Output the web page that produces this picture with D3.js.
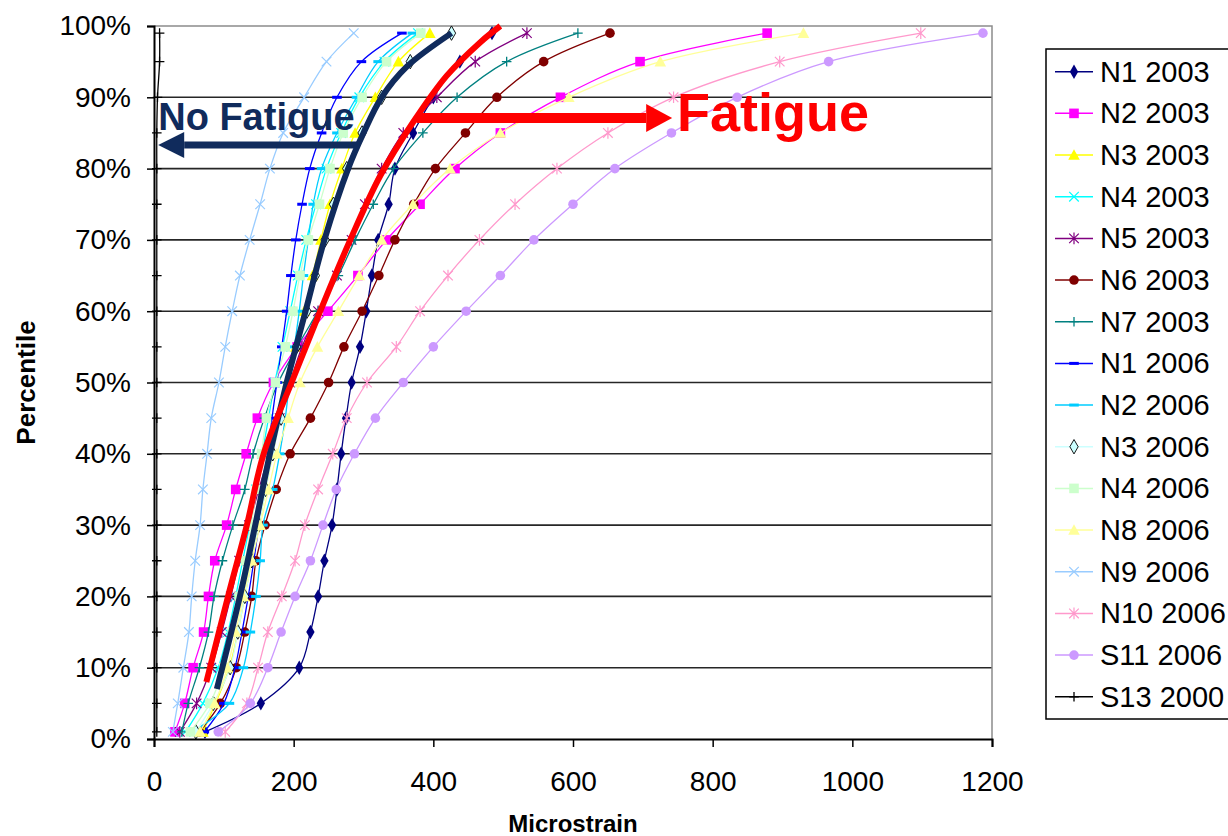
<!DOCTYPE html>
<html>
<head>
<meta charset="utf-8">
<script src="https://cdn.jsdelivr.net/npm/d3@7"></script>
<style>
  html, body { margin: 0; padding: 0; background: #fff; }
  svg { display: block; font-family: "Liberation Sans", Arial, sans-serif; }
</style>
</head>
<body>
<svg id="chart" width="1228" height="836"></svg>
<script>
// percentiles sampled for every series (%)
const percentiles = [1, 5, 10, 15, 20, 25, 30, 35, 40, 45, 50, 55, 60, 65, 70, 75, 80, 85, 90, 95, 99];

// microstrain at each percentile
const n1_2003  = [73, 153, 208, 224, 235, 244, 255, 262, 268, 275, 283, 295, 304, 312, 321, 336, 345, 371, 400, 438, 484];
const n2_2003  = [30, 44, 56, 71, 78, 87, 104, 117, 132, 148, 171, 205, 249, 292, 333, 381, 431, 496, 582, 696, 878];
const n3_2003  = [70, 88, 108, 120, 130, 140, 150, 160, 170, 181, 192, 203, 215, 227, 239, 252, 269, 288, 317, 350, 395];
const n4_2003  = [45, 70, 92, 106, 117, 127, 137, 146, 155, 164, 173, 184, 195, 206, 218, 232, 247, 268, 294, 330, 378];
const n5_2003  = [37, 61, 82, 97, 110, 122, 136, 150, 165, 180, 195, 212, 235, 262, 283, 302, 326, 357, 405, 460, 534];
const n6_2003  = [65, 95, 118, 130, 140, 146, 159, 175, 195, 224, 250, 272, 298, 322, 345, 372, 403, 446, 491, 558, 653];
const n7_2003  = [40, 49, 65, 78, 86, 98, 113, 130, 142, 158, 178, 205, 235, 264, 288, 314, 343, 385, 434, 505, 607];
const n1_2006  = [72, 100, 116, 126, 135, 143, 150, 157, 163, 169, 176, 183, 190, 196, 203, 212, 223, 240, 262, 297, 355];
const n2_2006  = [55, 108, 128, 138, 146, 152, 156, 170, 180, 188, 194, 201, 208, 214, 221, 228, 240, 262, 290, 321, 370];
const n3_2006  = [60, 85, 109, 120, 130, 140, 150, 160, 170, 182, 193, 204, 219, 231, 245, 257, 276, 298, 326, 367, 426];
const n4_2006  = [52, 80, 100, 112, 122, 131, 139, 147, 154, 161, 174, 188, 199, 209, 221, 237, 252, 271, 298, 333, 382];
const n8_2006  = [66, 87, 105, 117, 128, 140, 152, 164, 176, 192, 209, 234, 264, 294, 326, 371, 424, 496, 594, 725, 930];
const n9_2006  = [27, 34, 42, 50, 54, 59, 66, 70, 76, 82, 93, 102, 112, 123, 137, 152, 166, 185, 215, 247, 286];
const n10_2006 = [102, 133, 149, 163, 183, 202, 216, 235, 256, 276, 305, 347, 381, 421, 466, 517, 577, 650, 744, 896, 1098];
const s11_2006 = [92, 138, 163, 182, 202, 224, 242, 261, 287, 317, 357, 400, 447, 496, 544, 600, 660, 741, 835, 966, 1187];
const s13_2000 = [4, 4, 4, 4, 4, 4, 4, 4, 4, 4, 4, 4, 4, 4, 4, 4, 4, 4, 5, 8, 8];

const seriesNames = ["N1 2003", "N2 2003", "N3 2003", "N4 2003", "N5 2003", "N6 2003", "N7 2003",
  "N1 2006", "N2 2006", "N3 2006", "N4 2006", "N8 2006", "N9 2006", "N10 2006", "S11 2006", "S13 2000"];
const seriesValues = [n1_2003, n2_2003, n3_2003, n4_2003, n5_2003, n6_2003, n7_2003,
  n1_2006, n2_2006, n3_2006, n4_2006, n8_2006, n9_2006, n10_2006, s11_2006, s13_2000];

// hand-drawn trend curves (microstrain, percentile)
const noFatigueX = [90, 123, 145, 166, 190, 217, 244, 278, 300, 326, 362, 426];
const noFatigueP = [7, 20, 30, 40, 50, 60, 70, 80, 85, 90, 94.3, 99];
const fatigueX = [75, 106, 133, 157, 197, 238, 281, 324, 371, 419, 467, 496];
const fatigueP = [8, 20, 30, 40, 50, 60, 70, 79, 86.5, 93, 97.7, 100];

const xTicks = [0, 200, 400, 600, 800, 1000, 1200];
const yTicks = [0, 10, 20, 30, 40, 50, 60, 70, 80, 90, 100];

// marker / colour per series, same order as seriesNames
const STYLES = [
  { color: '#000080', sym: 'diamond' },
  { color: '#FF00FF', sym: 'square' },
  { color: '#FFFF00', sym: 'triangle' },
  { color: '#00FFFF', sym: 'x' },
  { color: '#800080', sym: 'star' },
  { color: '#800000', sym: 'circle' },
  { color: '#008080', sym: 'plus' },
  { color: '#0000FF', sym: 'dash' },
  { color: '#00CCFF', sym: 'dash' },
  { color: '#CCFFFF', sym: 'diamond', stroke: '#000' },
  { color: '#CCFFCC', sym: 'square' },
  { color: '#FFFF99', sym: 'triangle' },
  { color: '#99CCFF', sym: 'x' },
  { color: '#FF99CC', sym: 'star' },
  { color: '#CC99FF', sym: 'circle' },
  { color: '#000000', sym: 'plus' }
];

const NAVY = '#102b5c';
const RED = '#ff0000';

const svg = d3.select('#chart');
const x = d3.scaleLinear().domain([0, 1200]).range([154, 992]);
const y = d3.scaleLinear().domain([0, 100]).range([739, 26]);

// ---- grid ----
svg.append('g').selectAll('line')
  .data(yTicks.filter(t => t > 0 && t < 100))
  .join('line')
  .attr('x1', x(0)).attr('x2', x(1200))
  .attr('y1', d => y(d)).attr('y2', d => y(d))
  .attr('stroke', '#262626').attr('stroke-width', 1.6);

// plot frame (top and right in grey)
svg.append('path')
  .attr('d', `M${x(0)},${y(100)}H${x(1200)}V${y(0)}`)
  .attr('fill', 'none').attr('stroke', '#8c8c8c').attr('stroke-width', 1.5);

// ---- markers ----
function drawMarker(g, sym, color, stroke, sz) {
  const s = sz || 4.8;
  if (sym === 'diamond') {
    g.append('path').attr('d', d3.symbol(d3.symbolDiamond, 60)())
      .attr('fill', color).attr('stroke', stroke || color).attr('stroke-width', stroke ? 0.9 : 0);
  } else if (sym === 'square') {
    g.append('rect').attr('x', -s).attr('y', -s).attr('width', 2 * s).attr('height', 2 * s)
      .attr('fill', color);
  } else if (sym === 'triangle') {
    g.append('path').attr('d', `M0,${-s - 1}L${s + 1},${s}L${-s - 1},${s}Z`).attr('fill', color);
  } else if (sym === 'circle') {
    g.append('circle').attr('r', s).attr('fill', color);
  } else if (sym === 'x') {
    g.append('path').attr('d', `M${-s},${-s}L${s},${s}M${-s},${s}L${s},${-s}`)
      .attr('stroke', color).attr('stroke-width', 1.2).attr('fill', 'none');
  } else if (sym === 'star') {
    g.append('path').attr('d', `M${-s},${-s}L${s},${s}M${-s},${s}L${s},${-s}M0,${-s - 1}L0,${s + 1}`)
      .attr('stroke', color).attr('stroke-width', 1.2).attr('fill', 'none');
  } else if (sym === 'plus') {
    g.append('path').attr('d', `M${-s},0L${s},0M0,${-s}L0,${s}`)
      .attr('stroke', color).attr('stroke-width', 1.3).attr('fill', 'none');
  } else if (sym === 'dash') {
    g.append('rect').attr('x', -s).attr('y', -1.5).attr('width', 2 * s).attr('height', 3)
      .attr('fill', color);
  }
}

// ---- series ----
const line = d3.line()
  .x(d => x(d.v)).y(d => y(d.p))
  .curve(d3.curveCatmullRom.alpha(0.5));

const seriesG = svg.append('g');
seriesValues.forEach((vals, i) => {
  const st = STYLES[i];
  const pts = vals.map((v, j) => ({ v, p: percentiles[j] }));
  const g = seriesG.append('g');
  g.append('path').datum(pts).attr('d', line)
    .attr('fill', 'none').attr('stroke', st.color).attr('stroke-width', 1.3);
  pts.forEach(d => {
    const mg = g.append('g').attr('transform', `translate(${x(d.v)},${y(d.p)})`);
    drawMarker(mg, st.sym, st.color, st.stroke);
  });
});

// ---- axes ----
const yAxis = svg.append('g')
  .attr('transform', `translate(${x(0)},0)`)
  .call(d3.axisLeft(y).tickValues(yTicks).tickFormat(d => d + '%').tickSize(7).tickPadding(16));
const xAxis = svg.append('g')
  .attr('transform', `translate(0,${y(0)})`)
  .call(d3.axisBottom(x).tickValues(xTicks).tickFormat(d3.format('d')).tickSize(8).tickPadding(24));
[yAxis, xAxis].forEach(a => {
  a.select('.domain').attr('stroke', '#000').attr('stroke-width', 2);
  a.selectAll('.tick line').attr('stroke', '#000').attr('stroke-width', 1.5);
  a.selectAll('text').attr('font-size', 28).attr('fill', '#000')
    .attr('font-family', '"Liberation Sans", Arial, sans-serif');
});

svg.append('text')
  .attr('transform', `translate(35,${(y(0) + y(100)) / 2}) rotate(-90)`)
  .attr('text-anchor', 'middle')
  .attr('font-size', 26).attr('font-weight', 'bold')
  .text('Percentile');
svg.append('text')
  .attr('x', (x(0) + x(1200)) / 2).attr('y', 832)
  .attr('text-anchor', 'middle')
  .attr('font-size', 24).attr('font-weight', 'bold')
  .text('Microstrain');

// ---- trend curves ----
const trend = d3.line().x(d => x(d.v)).y(d => y(d.p)).curve(d3.curveCatmullRom.alpha(0.5));
svg.append('path')
  .datum(noFatigueX.map((v, j) => ({ v, p: noFatigueP[j] })))
  .attr('d', trend).attr('fill', 'none')
  .attr('stroke', NAVY).attr('stroke-width', 6).attr('stroke-linecap', 'butt');
svg.append('path')
  .datum(fatigueX.map((v, j) => ({ v, p: fatigueP[j] })))
  .attr('d', trend).attr('fill', 'none')
  .attr('stroke', RED).attr('stroke-width', 6).attr('stroke-linecap', 'butt');

// arrows
function arrow(x0, x1, yy, color, w, headLen, headH) {
  const dir = Math.sign(x1 - x0);
  const xb = x1 - dir * headLen;
  svg.append('line')
    .attr('x1', x0).attr('x2', xb).attr('y1', yy).attr('y2', yy)
    .attr('stroke', color).attr('stroke-width', w);
  svg.append('path')
    .attr('d', `M${x1},${yy}L${xb},${yy - headH / 2}L${xb},${yy + headH / 2}Z`)
    .attr('fill', color);
}
arrow(x(294), x(6), y(83.3), NAVY, 7, 26, 26);
arrow(x(376), x(742), y(87.1), RED, 10, 26, 28);

svg.append('text')
  .attr('x', x(6)).attr('y', y(85.4))
  .attr('font-size', 38).attr('font-weight', 'bold').attr('fill', NAVY)
  .text('No Fatigue');
svg.append('text')
  .attr('x', x(749)).attr('y', y(85.3))
  .attr('font-size', 54).attr('font-weight', 'bold').attr('fill', RED)
  .text('Fatigue');

// ---- legend ----
const legend = svg.append('g');
legend.append('rect')
  .attr('x', 1046).attr('y', 49).attr('width', 200).attr('height', 670)
  .attr('fill', '#fff').attr('stroke', '#000').attr('stroke-width', 1.5);
seriesNames.forEach((name, i) => {
  const st = STYLES[i];
  const ly = 71.7 + i * 41.67;
  const g = legend.append('g').attr('transform', `translate(0,${ly})`);
  g.append('line').attr('x1', 1055).attr('x2', 1093).attr('y1', 0).attr('y2', 0)
    .attr('stroke', st.color).attr('stroke-width', 1.5);
  const mg = g.append('g').attr('transform', 'translate(1074,0)');
  drawMarker(mg, st.sym, st.color, st.stroke);
  g.append('text').attr('x', 1100).attr('y', 10)
    .attr('font-size', 29).attr('fill', '#000')
    .text(name);
});
</script>
</body>
</html>
